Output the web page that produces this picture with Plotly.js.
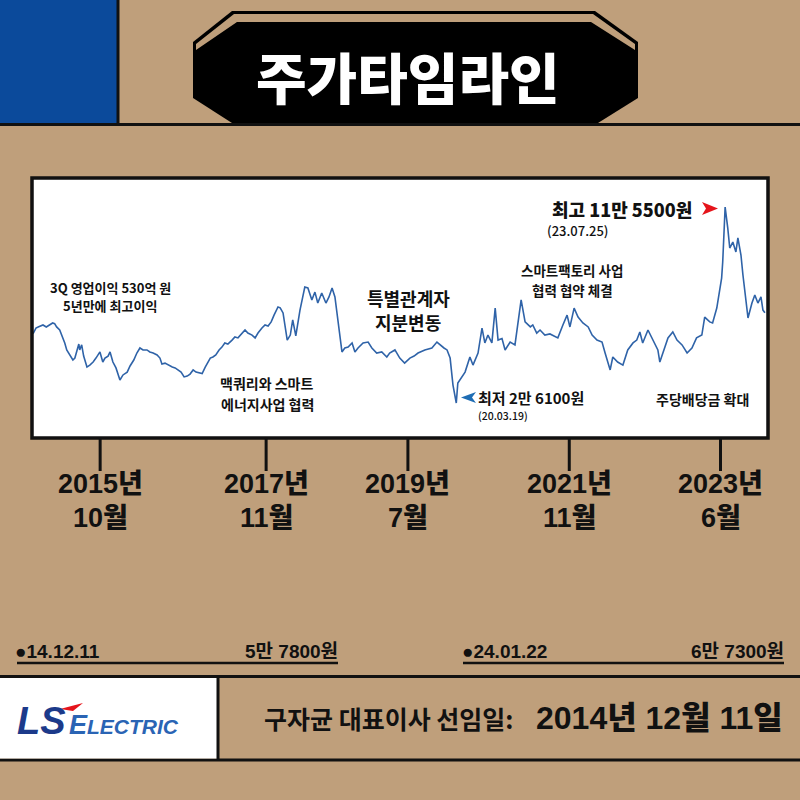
<!DOCTYPE html>
<html><head><meta charset="utf-8">
<script src="https://cdn.plot.ly/plotly-3.0.1.min.js"></script>
<style>html,body{margin:0;padding:0;background:#bf9f7b;}#chart{width:800px;height:800px;}</style>
</head><body><div id="chart"></div>
<script>
// ---- data ----
const dates = ['2014-12-11','2014-12-24','2015-01-03','2015-01-25','2015-02-09','2015-02-27','2015-03-10','2015-03-19','2015-03-28','2015-04-11','2015-04-25','2015-05-04','2015-05-13','2015-05-26','2015-06-10','2015-06-19','2015-06-28','2015-07-07','2015-07-11','2015-07-20','2015-07-29','2015-08-13','2015-08-26','2015-09-10','2015-09-23','2015-10-11','2015-10-24','2015-11-03','2015-11-17','2015-11-26','2015-12-09','2015-12-23',
'2016-01-10','2016-01-24','2016-02-12','2016-02-25','2016-03-13','2016-03-27','2016-04-10','2016-04-24','2016-05-12','2016-05-25','2016-06-09','2016-06-27','2016-07-10','2016-07-19','2016-08-02','2016-08-16','2016-09-04','2016-09-17','2016-09-30','2016-10-14','2016-10-28','2016-11-11','2016-11-24','2016-12-08','2016-12-21',
'2017-01-05','2017-01-18','2017-02-01','2017-02-15','2017-02-24','2017-03-08','2017-03-21','2017-04-05','2017-04-18','2017-05-01','2017-05-15','2017-06-03','2017-06-16','2017-06-30','2017-07-13','2017-08-01','2017-08-14','2017-09-02','2017-09-16','2017-09-29','2017-10-17','2017-10-31','2017-11-14','2017-11-28','2017-12-11','2017-12-29',
'2018-01-08','2018-01-21','2018-02-09','2018-02-23','2018-03-06','2018-03-20','2018-04-08','2018-04-21','2018-04-30','2018-05-14','2018-06-01','2018-06-15','2018-06-28','2018-07-16','2018-08-04','2018-08-18','2018-09-01','2018-09-14','2018-09-28','2018-10-16','2018-10-29','2018-11-13','2018-12-01','2018-12-14','2018-12-28',
'2019-01-20','2019-02-12','2019-03-01','2019-03-23','2019-04-15','2019-05-08','2019-05-21','2019-06-14','2019-07-06','2019-07-28','2019-08-21','2019-09-09','2019-09-27','2019-10-28','2019-11-29','2019-12-22',
'2020-01-05','2020-01-23','2020-02-06','2020-02-20','2020-03-04','2020-03-19','2020-03-26','2020-04-14','2020-04-28','2020-05-20','2020-06-03','2020-06-26','2020-07-14','2020-07-27','2020-08-10','2020-08-28','2020-09-12','2020-09-25','2020-10-13','2020-10-27','2020-11-19','2020-12-11','2020-12-25',
'2021-01-08','2021-01-26','2021-02-19','2021-03-02','2021-03-20','2021-04-04','2021-04-26','2021-05-19','2021-06-11','2021-06-24','2021-07-17','2021-08-05','2021-08-18','2021-09-06','2021-09-24','2021-10-16','2021-11-09','2021-11-27','2021-12-19',
'2022-01-11','2022-01-25','2022-02-08','2022-02-17','2022-03-01','2022-03-23','2022-04-16','2022-05-08','2022-06-01','2022-06-18','2022-07-02','2022-07-15','2022-08-08','2022-09-01','2022-09-22','2022-10-01','2022-10-15','2022-11-07','2022-11-29','2022-12-18',
'2023-01-10','2023-02-02','2023-02-24','2023-03-17','2023-04-10','2023-04-23','2023-05-16','2023-05-29','2023-06-17','2023-06-30','2023-07-09','2023-07-14','2023-07-25','2023-08-06','2023-08-15','2023-08-29','2023-09-12','2023-09-21','2023-10-05','2023-10-14','2023-10-27','2023-11-06','2023-11-24','2023-12-07','2023-12-21',
'2024-01-04','2024-01-13','2024-01-22'];
const prices = [57800,60300,60800,61700,60800,62100,62600,62300,60800,59400,56200,53500,50300,48000,45700,46600,49400,53000,50300,52600,47500,42500,43400,44800,46600,49400,44800,46600,47500,49400,44800,42100,
36600,38900,40200,43000,45700,48900,51200,50300,50300,49400,48900,48000,46600,43900,44300,43400,42500,42100,41200,40200,38000,38400,39300,41200,40200,
39800,39500,42500,44800,46600,47100,48000,50300,51600,53500,53000,54800,56200,55800,57100,59400,58000,57100,55800,58000,60300,61700,61200,63100,66200,69900,
69500,67200,54800,57100,64000,56700,68500,75400,79000,78600,73100,76700,71700,76300,71700,74500,78600,74500,62600,49400,51200,51600,53500,49400,51200,
53500,53900,51200,48900,49400,47100,48900,50300,46600,44300,46600,47500,48900,50300,51200,53900,
52600,51200,50300,46600,34300,26100,35200,38000,40200,47100,43400,48900,60300,53500,57100,53500,69400,54800,55500,50300,53900,52600,64000,
73100,63100,60800,61700,58000,59400,57100,57600,56200,55800,61700,66200,60800,69400,65300,62600,60800,57100,54800,
53900,48900,43400,41200,47100,44800,43400,50300,53500,54800,58500,53500,59400,54800,50300,44800,49400,55800,58500,54800,
52600,48900,51200,55800,57100,65300,63100,62600,69400,76700,83100,90400,115500,105900,96800,99500,95000,101400,93600,84500,74000,64900,71700,75400,71700,
74500,68500,67300];

const tickDates  = ['2015-10-12','2017-11-05','2019-08-12','2021-08-15','2023-07-04'];
const tickYears  = ['2015년','2017년','2019년','2021년','2023년'];
const tickMonths = ['10월','11월','7월','11월','6월'];

const titleText = '주가타임라인';
const eventNotes = {
  earnings: ['3Q 영업이익 530억 원','5년만에 최고이익'],
  macquarie: ['맥쿼리와 스마트','에너지사업 협력'],
  stake: ['특별관계자','지분변동'],
  factory: ['스마트팩토리 사업','협력 협약 체결'],
  dividend: ['주당배당금 확대']
};
const ceoName = '구자균 대표이사 선임일:';

// ---- helpers ----
const fmtWon = p => Math.floor(p/10000) + '만 ' + (p % 10000) + '원';
const fmtShort = d => d.slice(2,4) + '.' + d.slice(5,7) + '.' + d.slice(8,10);
const fmtLong = d => d.slice(0,4) + '년 ' + (+d.slice(5,7)) + '월 ' + (+d.slice(8,10)) + '일';

let iMax = 0, iMin = 0;
prices.forEach((p,i) => { if (p > prices[iMax]) iMax = i; if (p < prices[iMin]) iMin = i; });
const iFirst = 0, iLast = prices.length - 1;

// ---- geometry (pixel -> paper) ----
const L = 32, R = 768, T = 178, B = 438, W = R - L, H = B - T;
const px = X => (X - L) / W;
const py = Y => (B - Y) / H;
const poly = pts => 'M' + pts.map(p => px(p[0]).toFixed(5) + ',' + py(p[1]).toFixed(5)).join(' L') + ' Z';

const KR = 'Noto Sans CJK KR, Noto Sans, sans-serif';
const NARROW = 'Liberation Sans Narrow, Liberation Sans, Noto Sans CJK KR, sans-serif';
const INK = '#111111';

function ann(text, X, Y, size, o = {}) {
  return {
    text, x: px(X), y: py(Y), xref: 'paper', yref: 'paper', showarrow: false, borderpad: 0,
    xanchor: o.xa || 'center', yanchor: 'middle',
    font: { family: o.family || KR, size, color: o.color || INK, weight: o.weight || 700, style: o.style || 'normal' }
  };
}
function rect(x0, y0, x1, y1, fill) {
  return { type: 'rect', xref: 'paper', yref: 'paper', x0: px(x0), x1: px(x1), y0: py(y0), y1: py(y1), fillcolor: fill, line: { width: 0 } };
}
function hline(x0, x1, Y, w) {
  return { type: 'line', xref: 'paper', yref: 'paper', x0: px(x0), x1: px(x1), y0: py(Y), y1: py(Y), line: { color: INK, width: w } };
}
function vline(X, y0, y1, w) {
  return { type: 'line', xref: 'paper', yref: 'paper', x0: px(X), x1: px(X), y0: py(y0), y1: py(y1), line: { color: INK, width: w } };
}
function shapePath(pts, fill) {
  return { type: 'path', xref: 'paper', yref: 'paper', path: poly(pts), fillcolor: fill, line: { width: 0 } };
}

const shapes = [
  rect(0, 0, 117, 123, '#0b4a9b'),
  vline(118, 0, 125, 3),
  hline(0, 800, 124.5, 3),
  shapePath([[193,42],[232,11],[595,11],[638,42],[638,98],[598,123],[232,123],[193,98]], '#000000'),
  shapePath([[196,44],[234,14],[593,14],[635,44],[635,50],[591,22],[237,22],[196,50]], '#bf9f7b'),
  { type: 'rect', xref: 'paper', yref: 'paper', x0: 0, x1: 1, y0: 0, y1: 1, line: { color: INK, width: 3.5 } },
  shapePath([[702,202],[718,208.5],[702,215],[706,208.5]], '#e5141b'),
  shapePath([[476,392],[461,397.5],[476,403],[472,397.5]], '#1f6db4'),
  hline(17, 338, 663, 2.5),
  hline(463, 784, 663, 2.5),
  hline(0, 800, 676.5, 3),
  hline(0, 800, 760, 3),
  rect(0, 678, 217, 758.5, '#ffffff'),
  vline(218, 676, 760, 3),
  shapePath([[60,709],[83,703],[73,711]], '#e5141b')
];
tickDates.forEach(d => shapes.push({ type: 'line', xref: 'x', yref: 'paper', x0: d, x1: d, y0: py(438), y1: py(471), line: { color: INK, width: 3 } }));

const annotations = [
  ann(titleText, 408, 75, 55, { color: '#ffffff', weight: 900 }),
  ann(eventNotes.earnings[0], 110, 287, 13),
  ann(eventNotes.earnings[1], 110, 305, 13),
  ann(eventNotes.macquarie[0], 266, 383, 14),
  ann(eventNotes.macquarie[1], 267, 404, 14),
  ann(eventNotes.stake[0], 408, 298, 18),
  ann(eventNotes.stake[1], 408, 322, 18),
  ann(eventNotes.factory[0], 572, 270, 13.5),
  ann(eventNotes.factory[1], 572, 290, 13.5),
  ann(eventNotes.dividend[0], 702, 399, 14),
  ann('최고 ' + fmtWon(prices[iMax]), 693, 209, 18, { xa: 'right', weight: 800 }),
  ann('(' + fmtShort(dates[iMax]) + ')', 546, 230, 13, { xa: 'left', weight: 500 }),
  ann('최저 ' + fmtWon(prices[iMin]), 477, 397, 15, { xa: 'left' }),
  ann('(' + fmtShort(dates[iMin]) + ')', 477, 415, 10.5, { xa: 'left', weight: 500 }),
  ann('●' + fmtShort(dates[iFirst]), 14, 651, 19, { xa: 'left', family: NARROW }),
  ann(fmtWon(prices[iFirst]), 339, 651, 19, { xa: 'right', family: NARROW }),
  ann('●' + fmtShort(dates[iLast]), 461, 651, 19, { xa: 'left', family: NARROW }),
  ann(fmtWon(prices[iLast]), 785, 651, 19, { xa: 'right', family: NARROW }),
  ann(ceoName, 514, 718, 25, { xa: 'right' }),
  ann(fmtLong(dates[iFirst]), 784, 718, 32, { xa: 'right', family: NARROW, weight: 800 }),
  ann('LS', 16, 721, 38, { xa: 'left', family: 'Liberation Sans, sans-serif', color: '#1c3a8a', weight: 900, style: 'italic' }),
  ann('E<span style="font-size:21px">LECTRIC</span>', 68, 725, 27, { xa: 'left', family: 'Liberation Sans, sans-serif', color: '#2a64b4', weight: 700, style: 'italic' })
];
tickDates.forEach((d, i) => {
  annotations.push({ text: tickYears[i], x: d, y: py(484), xref: 'x', yref: 'paper', showarrow: false, borderpad: 0, xanchor: 'center', yanchor: 'middle', font: { family: NARROW, size: 27, color: INK, weight: 800 } });
  annotations.push({ text: tickMonths[i], x: d, y: py(518), xref: 'x', yref: 'paper', showarrow: false, borderpad: 0, xanchor: 'center', yanchor: 'middle', font: { family: NARROW, size: 27, color: INK, weight: 800 } });
});

const trace = {
  x: dates, y: prices, type: 'scatter', mode: 'lines',
  line: { color: '#2f63a8', width: 1.6 }, hoverinfo: 'skip', showlegend: false
};

const layout = {
  width: 800, height: 800,
  margin: { l: L, r: 800 - R, t: T, b: 800 - B, pad: 0 },
  paper_bgcolor: '#bf9f7b', plot_bgcolor: '#ffffff',
  xaxis: { type: 'date', range: ['2014-12-06', '2024-02-05'], visible: false, fixedrange: true },
  yaxis: { range: [10133, 128745], visible: false, fixedrange: true },
  shapes, annotations, showlegend: false
};

Plotly.newPlot('chart', [trace], layout, { displayModeBar: false, staticPlot: true });
</script></body></html>
